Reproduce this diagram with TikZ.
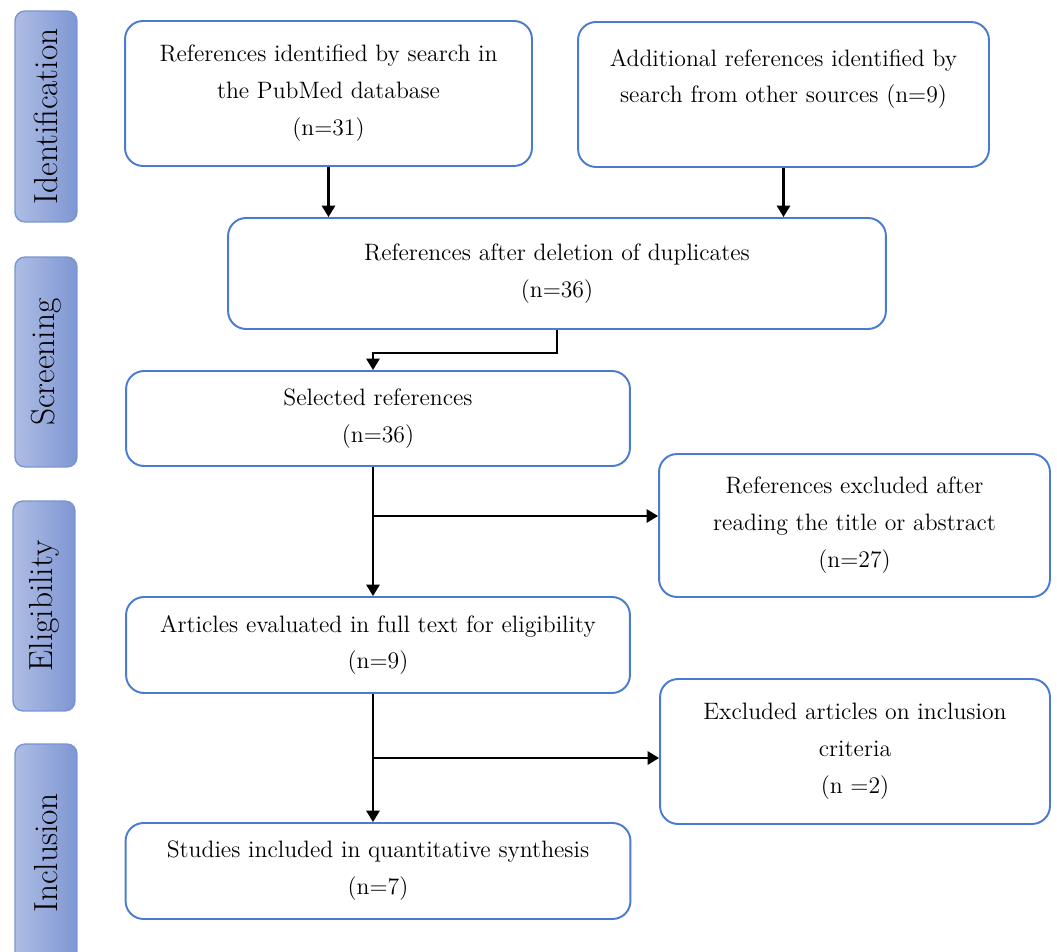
\documentclass[tikz,border=0pt]{standalone}
\usetikzlibrary{arrows.meta,positioning}
\definecolor{boxblue}{HTML}{4A7BD0}
\definecolor{barlight}{HTML}{AEBDE4}
\definecolor{bardark}{HTML}{7E96D3}
\definecolor{barline}{HTML}{7A93D2}

\begin{document}
\begin{tikzpicture}[x=0.02cm,y=-0.02cm,
  flowbox/.style={draw=boxblue,line width=1.1pt,rounded corners=0.36cm,
    align=center,inner sep=0pt,font=\fontsize{13.5}{21}\selectfont},
  phasebar/.style={draw=barline,line width=0.8pt,rounded corners=0.2cm,
    left color=barlight,right color=bardark,rotate=90,
    minimum height=1.24cm,inner sep=0pt,font=\fontsize{19}{22}\selectfont},
  arr/.style={line width=1.3pt,-{Triangle[width=7.5pt,length=6.5pt]}}]

  \clip (0,0) rectangle (1057,952);

  % ---- Phase bars (left) --------------------------------------
  \node[phasebar,minimum width=4.22cm] (barId) at (46,116.5) {Identification};
  \node[phasebar,minimum width=4.2cm] (barScr) at (46,362) {Screening};
  \node[phasebar,minimum width=4.2cm] (barElig) at (44,606) {Eligibility};
  \node[phasebar,minimum width=4.36cm] (barIncl) at (46,853) {Inclusion};

  % ---- Identification ------------------------------------------
  \node[flowbox,minimum width=8.14cm,minimum height=2.9cm] (pubmed) at (328.5,93.5)
    {References identified by search in\\the PubMed database\\(n=31)};
  \node[flowbox,minimum width=8.22cm,minimum height=2.9cm] (other) at (783.5,94.5)
    {Additional references identified by\\search from other sources (n=9)\\~};

  % ---- Screening ------------------------------------------------
  \node[flowbox,minimum width=13.16cm,minimum height=2.22cm] (dup) at (557,273.5)
    {References after deletion of duplicates\\(n=36)};
  \node[flowbox,minimum width=10.08cm,minimum height=1.9cm] (selected) at (378,418.5)
    {Selected references\\(n=36)};
  \node[flowbox,minimum width=7.82cm,minimum height=2.86cm] (exclA) at (854.5,525.5)
    {References excluded after\\reading the title or abstract\\(n=27)};

  % ---- Eligibility ----------------------------------------------
  \node[flowbox,minimum width=10.08cm,minimum height=1.92cm] (articles) at (378,645)
    {Articles evaluated in full text for eligibility\\(n=9)};
  \node[flowbox,minimum width=7.8cm,minimum height=2.9cm] (exclB) at (855,751.5)
    {Excluded articles on inclusion\\criteria\\(n =2)};

  % ---- Inclusion ------------------------------------------------
  \node[flowbox,minimum width=10.1cm,minimum height=1.92cm] (studies) at (378,871)
    {Studies included in quantitative synthesis\\(n=7)};

  % ---- Connectors -----------------------------------------------
  \draw[arr] (pubmed.south) -- (pubmed.south |- dup.north);
  \draw[arr] (other.south) -- (other.south |- dup.north);
  \draw[arr] (dup.south) -- ++(0,23) -| ([xshift=-0.1cm]selected.north);
  \draw[arr] ([xshift=-0.1cm]selected.south) -- ([xshift=-0.1cm]articles.north);
  \coordinate (trunkA) at (373,516);
  \draw[arr] (trunkA) -- (trunkA -| exclA.west);
  \draw[arr] ([xshift=-0.1cm]articles.south) -- ([xshift=-0.1cm]studies.north);
  \coordinate (trunkB) at (373,758);
  \draw[arr] (trunkB) -- (trunkB -| exclB.west);

\end{tikzpicture}
\end{document}
